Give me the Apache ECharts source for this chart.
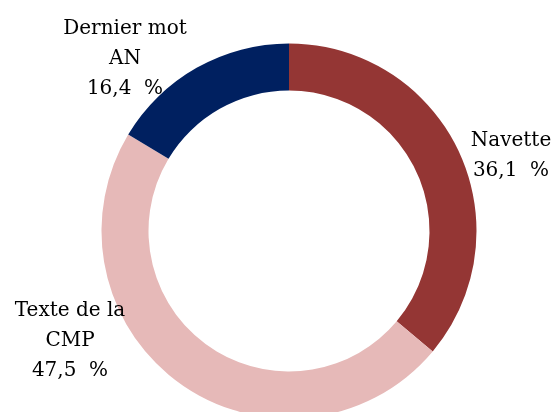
<!DOCTYPE html>
<html><head><meta charset="utf-8">
<script src="https://cdn.jsdelivr.net/npm/echarts@6/dist/echarts.min.js"></script>
<style>html,body{margin:0;padding:0;background:#fff}#c{width:555px;height:412px}</style>
</head><body><div id="c"></div>
<script>
var categories = ['Navette', 'Texte de la CMP', 'Dernier mot AN'];
var labelNames = ['Navette', 'Texte de la\nCMP', 'Dernier mot\nAN'];
var values = [36.1, 47.5, 16.4];
var valueLabels = ['36,1', '47,5', '16,4'];
var colors = ['#943634', '#E6B9B8', '#002060'];
var labelPos = [[511, 156], [70, 341], [125, 59]];

var chart = echarts.init(document.getElementById('c'));
chart.setOption({
  animation: false,
  series: [{
    type: 'pie',
    center: [289, 231],
    radius: [140.5, 187.5],
    startAngle: 90,
    clockwise: true,
    avoidLabelOverlap: false,
    data: categories.map(function (c, i) {
      return { name: c, value: values[i], itemStyle: { color: colors[i] } };
    }),
    itemStyle: { borderWidth: 0 },
    label: {
      show: true,
      position: 'outside',
      color: '#000',
      fontFamily: 'DejaVu Serif',
      fontSize: 20,
      lineHeight: 30,
      align: 'center',
      formatter: function (p) {
        return labelNames[p.dataIndex] + '\n' + valueLabels[p.dataIndex] + '  %';
      }
    },
    labelLine: { show: false },
    labelLayout: function (p) {
      var pos = labelPos[p.dataIndex];
      return { x: pos[0], y: pos[1], align: 'center', verticalAlign: 'middle' };
    },
    emphasis: { disabled: true }
  }]
});
</script></body></html>
